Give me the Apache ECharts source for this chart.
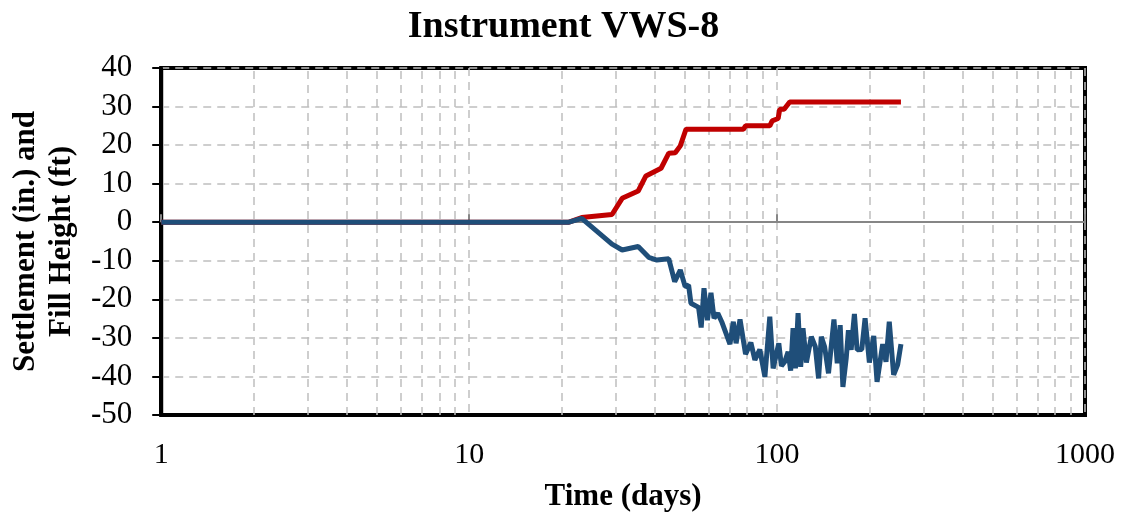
<!DOCTYPE html>
<html>
<head>
<meta charset="utf-8">
<script src="https://cdn.jsdelivr.net/npm/echarts@6/dist/echarts.min.js"></script>
<style>
  html, body { margin: 0; padding: 0; background: #fff; }
  #main { width: 1127px; height: 518px; }
</style>
</head>
<body>
<div id="main"></div>
<script>
// fill height (ft), red line
var fillDays = [1, 21.1, 23.2, 29.1, 31.4, 35.4, 37.5, 42.0, 44.5, 46.7, 48.5, 50.6, 77.7, 79.0, 94.7, 96.4, 100.8, 102.0, 105.4, 109.9, 252.5];
var fillHeight = [0, 0, 1.2, 2.0, 6.2, 8.1, 12.0, 14.0, 17.9, 18.0, 19.8, 24.1, 24.1, 25.0, 25.0, 26.3, 26.9, 29.3, 29.3, 31.2, 31.2];

// settlement (in.), blue line
var settleDays = [1, 21.1, 23.2, 29.1, 31.4, 35.4, 38.3, 40.7, 44.5, 46.5, 48.5, 50.3, 51.6, 52.5, 55.6, 56.7,
  57.9, 59.4, 61.0, 62.4, 64.2, 66.1, 70.3, 72.1, 73.6, 75.8, 79.0, 82.2, 84.7, 87.9, 91.3, 94.7, 97.1,
  101.3, 103.3, 105.9, 108.6, 110.7, 112.7, 114.7, 117.0, 119.3, 121.4, 124.5, 129.2, 133.1, 136.4, 139.2,
  142.7, 146.9, 153.0, 156.8, 160.3, 163.6, 167.7, 170.5, 174.0, 178.3, 181.9, 188.4, 193.1, 199.4, 206.0,
  211.2, 220.3, 225.8, 231.4, 239.1, 246.3, 252.5];
var settlement = [0, 0, 1.0, -5.7, -7.2, -6.3, -9.1, -9.8, -9.5, -15.4, -12.4, -16.7, -16.3, -21.0, -22.1, -27.3,
  -17.1, -25.4, -18.3, -24.9, -23.6, -25.8, -31.6, -25.8, -31.4, -25.2, -34.2, -31.2, -35.7, -33.0, -40.1, -24.5, -37.9,
  -31.4, -37.3, -36.2, -33.6, -38.5, -27.5, -37.9, -23.6, -37.5, -27.5, -36.4, -29.7, -32.3, -40.5, -29.7,
  -32.3, -39.2, -25.2, -36.6, -26.7, -42.7, -35.3, -28.0, -33.1, -23.8, -33.1, -33.0, -24.9, -36.4, -29.5,
  -41.4, -31.6, -36.2, -25.8, -39.6, -37.0, -31.6];

var yTicks = [-50, -40, -30, -20, -10, 0, 10, 20, 30, 40];

function zip(xs, ys) {
  var out = [];
  for (var i = 0; i < xs.length; i++) {
    out.push([xs[i], ys[i]]);
  }
  return out;
}

// minor vertical gridlines at 2..9 of each decade
var minorLines = [];
for (var d = 1; d < 1000; d *= 10) {
  for (var k = 2; k <= 9; k++) {
    minorLines.push({ xAxis: k * d });
  }
}

var serif = '"Liberation Serif", "Times New Roman", serif';
var gridDash = { color: '#BFBFBF', width: 1.5, type: [8, 6] };

var myChart = echarts.init(document.getElementById('main'));

var option = {
  animation: false,
  title: {
    text: 'Instrument VWS-8',
    left: 'center',
    top: 3,
    textStyle: { fontFamily: serif, fontWeight: 'bold', fontSize: 38, color: '#000' }
  },
  grid: {
    left: 157, right: 42, top: 68, bottom: 103,
    show: true, borderColor: '#000', borderWidth: 4
  },
  xAxis: [{
    type: 'log',
    logBase: 10,
    min: 1,
    max: 1000,
    name: 'Time (days)',
    nameLocation: 'middle',
    nameGap: 66,
    nameTextStyle: { fontFamily: serif, fontWeight: 'bold', fontSize: 31, color: '#000' },
    axisLine: { onZero: false, lineStyle: { color: '#000', width: 4 } },
    axisTick: { show: false },
    axisLabel: {
      fontFamily: serif, fontSize: 30, color: '#000', margin: 25,
      formatter: function (v) { return String(Math.round(v)); }
    },
    splitLine: { show: true, lineStyle: gridDash }
  }, {
    type: 'log',
    logBase: 10,
    min: 1,
    max: 1000,
    axisLine: { onZero: true, lineStyle: { color: '#868686', width: 2 } },
    axisTick: { show: true, length: 8, lineStyle: { color: '#868686', width: 2 } },
    axisLabel: { show: false },
    splitLine: { show: false }
  }],
  yAxis: {
    type: 'value',
    min: yTicks[0],
    max: yTicks[yTicks.length - 1],
    interval: 10,
    name: 'Settlement (in.) and\nFill Height (ft)',
    nameLocation: 'middle',
    nameGap: 80,
    nameTextStyle: { fontFamily: serif, fontWeight: 'bold', fontSize: 31, lineHeight: 36, color: '#000' },
    axisLine: { show: true, lineStyle: { color: '#000', width: 4 } },
    axisTick: { show: true, length: 9, lineStyle: { color: '#000', width: 2 } },
    axisLabel: { fontFamily: serif, fontSize: 31, color: '#000', margin: 29 },
    splitLine: { show: true, lineStyle: gridDash }
  },
  series: [{
    type: 'line',
    silent: true,
    data: [],
    z: 1,
    markLine: {
      silent: true,
      symbol: 'none',
      z: 1,
      label: { show: false },
      lineStyle: gridDash,
      data: minorLines
    }
  }, {
    name: 'Fill Height',
    type: 'line',
    data: zip(fillDays, fillHeight),
    showSymbol: false,
    z: 3,
    lineStyle: { color: '#C00000', width: 5 },
    itemStyle: { color: '#C00000' }
  }, {
    name: 'Settlement',
    type: 'line',
    data: zip(settleDays, settlement),
    showSymbol: false,
    z: 4,
    lineStyle: { color: '#1F4E79', width: 5 },
    itemStyle: { color: '#1F4E79' }
  }]
};

myChart.setOption(option);
</script>
</body>
</html>
